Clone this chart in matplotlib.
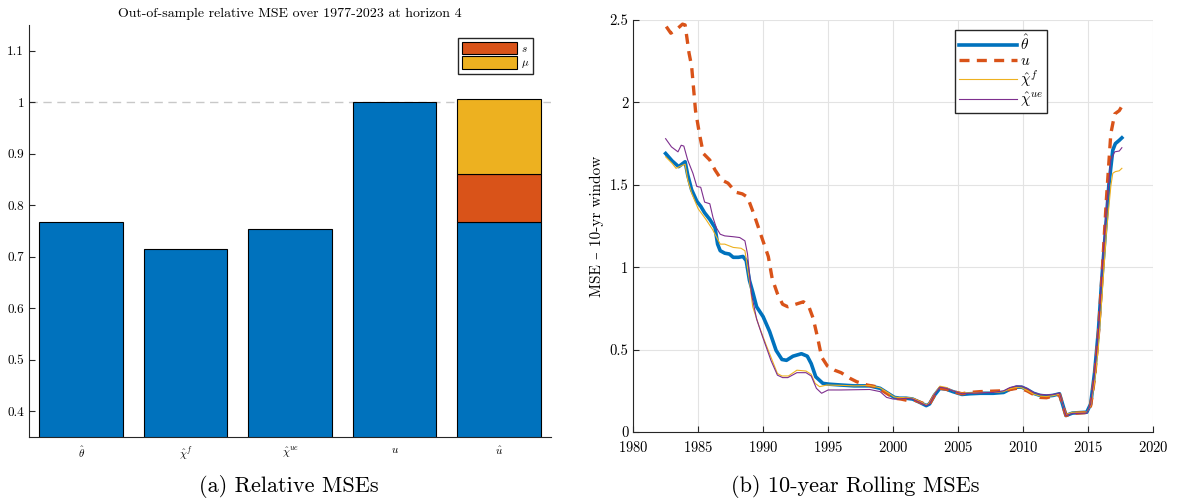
import numpy as np
import matplotlib
matplotlib.use("Agg")
import matplotlib.pyplot as plt

plt.rcParams['font.family'] = ['cmr10', 'DejaVu Serif']
plt.rcParams['mathtext.fontset'] = 'cm'
plt.rcParams['axes.formatter.use_mathtext'] = True

# MATLAB default colours
blue = '#0072BD'
orange = '#D95319'
yellow = '#EDB120'
purple = '#7E2F8E'

# --- panel (a): relative MSEs ---
bar_labels = [r'$\hat{\theta}$', r'$\hat{\chi}^{f}$', r'$\hat{\chi}^{ue}$', r'$u$', r'$\hat{u}$']
bar_values = [0.768, 0.715, 0.753, 1.0, 0.767]
# stacked pieces on top of the last bar
s_part = 0.094
mu_part = 0.145

# --- panel (b): rolling MSEs ---
theta_years = [1982.5, 1983.0, 1983.5, 1984.0, 1984.2, 1984.5, 1984.9, 1985.2, 1985.5, 1985.9,
               1986.3, 1986.5, 1986.7, 1987.05, 1987.4, 1987.7, 1988.1, 1988.45, 1988.7, 1988.95,
               1989.2, 1989.5, 1990.0, 1990.5, 1991.0, 1991.45, 1991.8, 1992.3, 1992.95, 1993.4,
               1993.7, 1994.05, 1994.6, 1995.1, 1996.0, 1997.0, 1998.2, 1999.0, 1999.6, 2000.1,
               2000.5, 2001.0, 2001.5, 2002.05, 2002.55, 2002.8, 2003.2, 2003.6, 2004.1, 2004.6,
               2005.3, 2005.9, 2006.7, 2007.7, 2008.5, 2009.0, 2009.5, 2009.9, 2010.3, 2010.8,
               2011.3, 2011.8, 2012.3, 2012.8, 2013.3, 2013.8, 2014.9, 2015.2, 2015.5, 2015.8,
               2016.05, 2016.3, 2016.6, 2016.9, 2017.1, 2017.4, 2017.6]
theta_mse = [1.69, 1.645, 1.61, 1.64, 1.56, 1.47, 1.40, 1.37, 1.33, 1.29,
             1.24, 1.14, 1.10, 1.085, 1.08, 1.06, 1.06, 1.065, 1.04, 0.92,
             0.85, 0.76, 0.70, 0.61, 0.495, 0.44, 0.435, 0.46, 0.475, 0.46,
             0.415, 0.335, 0.295, 0.29, 0.285, 0.28, 0.28, 0.265, 0.235, 0.21,
             0.205, 0.205, 0.20, 0.18, 0.16, 0.17, 0.225, 0.265, 0.26, 0.245,
             0.228, 0.232, 0.235, 0.235, 0.24, 0.26, 0.272, 0.272, 0.258, 0.235,
             0.222, 0.218, 0.222, 0.232, 0.10, 0.115, 0.12, 0.17, 0.36, 0.62,
             0.92, 1.18, 1.50, 1.71, 1.75, 1.77, 1.785]

u_years = [1982.55, 1982.9, 1983.3, 1983.8, 1984.0, 1984.3, 1984.5, 1984.8, 1985.1, 1985.4,
           1985.9, 1986.3, 1986.8, 1987.3, 1987.9, 1988.4, 1988.8, 1989.3, 1989.9, 1990.4,
           1990.7, 1991.1, 1991.5, 1991.9, 1992.5, 1993.1, 1993.5, 1993.85, 1994.2, 1994.5,
           1994.95, 1995.5, 1996.0, 1996.7, 1997.2, 1998.0, 1998.7, 1999.5, 2000.1, 2000.6,
           2001.2, 2001.6, 2002.1, 2002.6, 2002.8, 2003.2, 2003.6, 2004.1, 2004.6, 2005.3,
           2005.9, 2006.7, 2007.7, 2008.5, 2009.0, 2009.5, 2009.9, 2010.3, 2010.8, 2011.3,
           2011.8, 2012.3, 2012.8, 2013.3, 2013.8, 2014.9, 2015.2, 2015.5, 2015.8, 2016.05,
           2016.4, 2016.75, 2017.05, 2017.4, 2017.55]
u_mse = [2.46, 2.42, 2.44, 2.475, 2.47, 2.30, 2.22, 1.95, 1.81, 1.69,
         1.65, 1.59, 1.53, 1.51, 1.455, 1.445, 1.425, 1.32, 1.18, 1.065,
         0.93, 0.84, 0.775, 0.76, 0.775, 0.79, 0.765, 0.69, 0.57, 0.455,
         0.40, 0.375, 0.36, 0.325, 0.305, 0.285, 0.275, 0.235, 0.205, 0.20,
         0.19, 0.195, 0.18, 0.165, 0.17, 0.225, 0.265, 0.26, 0.245, 0.232,
         0.24, 0.245, 0.248, 0.25, 0.258, 0.265, 0.262, 0.25, 0.228, 0.21,
         0.208, 0.218, 0.228, 0.10, 0.113, 0.118, 0.16, 0.33, 0.60, 0.92,
         1.40, 1.81, 1.93, 1.95, 1.97]

chif_years = [1982.5, 1983.0, 1983.3, 1983.7, 1984.0, 1984.2, 1984.5, 1985.0, 1985.6, 1986.1,
              1986.7, 1987.05, 1987.7, 1988.3, 1988.6, 1988.95, 1989.2, 1989.7, 1990.2, 1990.6,
              1991.1, 1991.45, 1991.95, 1992.6, 1993.3, 1993.7, 1994.0, 1994.35, 1994.9, 1996.0,
              1997.0, 1998.2, 1999.0, 1999.6, 2000.1, 2000.5, 2001.0, 2001.5, 2002.05, 2002.55,
              2002.8, 2003.2, 2003.6, 2004.1, 2004.6, 2005.3, 2005.9, 2006.7, 2007.7, 2008.5,
              2009.0, 2009.5, 2009.9, 2010.3, 2010.8, 2011.3, 2011.8, 2012.3, 2012.8, 2013.3,
              2013.8, 2014.9, 2015.2, 2015.5, 2015.8, 2016.05, 2016.4, 2016.75, 2016.9, 2017.1,
              2017.4, 2017.6]
chif_mse = [1.67, 1.63, 1.60, 1.615, 1.625, 1.53, 1.45, 1.355, 1.29, 1.23,
            1.14, 1.14, 1.12, 1.115, 1.10, 0.92, 0.76, 0.64, 0.535, 0.455,
            0.355, 0.34, 0.34, 0.375, 0.37, 0.35, 0.295, 0.275, 0.285, 0.283,
            0.28, 0.282, 0.268, 0.238, 0.212, 0.208, 0.21, 0.205, 0.185, 0.165,
            0.175, 0.235, 0.278, 0.27, 0.25, 0.235, 0.238, 0.24, 0.24, 0.245,
            0.262, 0.27, 0.268, 0.252, 0.23, 0.218, 0.215, 0.22, 0.23, 0.105,
            0.12, 0.12, 0.16, 0.30, 0.52, 0.80, 1.20, 1.49, 1.57, 1.58,
            1.585, 1.60]

chiue_years = [1982.5, 1982.95, 1983.45, 1983.7, 1983.9, 1984.2, 1984.6, 1984.9, 1985.2, 1985.5,
               1985.9, 1986.15, 1986.4, 1986.7, 1987.05, 1987.7, 1988.2, 1988.6, 1988.8, 1989.1,
               1989.5, 1989.95, 1990.4, 1990.6, 1991.1, 1991.5, 1991.9, 1992.6, 1993.3, 1993.7,
               1994.1, 1994.5, 1995.0, 1996.0, 1998.2, 1999.0, 1999.5, 2000.0, 2000.5, 2001.0,
               2001.5, 2002.05, 2002.55, 2002.8, 2003.2, 2003.6, 2004.1, 2004.6, 2005.3, 2005.9,
               2006.7, 2007.7, 2008.5, 2009.0, 2009.5, 2009.9, 2010.3, 2010.8, 2011.3, 2011.8,
               2012.3, 2012.8, 2013.3, 2013.8, 2014.9, 2015.2, 2015.5, 2015.8, 2016.05, 2016.4,
               2016.75, 2017.05, 2017.4, 2017.6]
chiue_mse = [1.78, 1.73, 1.70, 1.74, 1.735, 1.65, 1.57, 1.49, 1.485, 1.395,
             1.385, 1.30, 1.24, 1.20, 1.19, 1.185, 1.18, 1.16, 1.08, 0.84,
             0.685, 0.58, 0.48, 0.435, 0.345, 0.33, 0.33, 0.36, 0.36, 0.34,
             0.265, 0.235, 0.255, 0.255, 0.258, 0.245, 0.21, 0.20, 0.20, 0.205,
             0.20, 0.18, 0.16, 0.17, 0.23, 0.272, 0.265, 0.25, 0.232, 0.235,
             0.238, 0.24, 0.25, 0.27, 0.28, 0.278, 0.265, 0.24, 0.228, 0.225,
             0.228, 0.236, 0.10, 0.112, 0.115, 0.17, 0.36, 0.62, 0.95, 1.35,
             1.65, 1.70, 1.705, 1.725]

fig = plt.figure(figsize=(11.79, 5.0), dpi=100)

# ---------- left panel ----------
ax1 = fig.add_axes([0.0246, 0.126, 0.443, 0.824])
x = np.arange(1, len(bar_values) + 1)
ax1.bar(x, bar_values, width=0.8, color=blue, edgecolor='black', linewidth=0.8, zorder=2)
base = bar_values[-1]
h_s = ax1.bar(x[-1], s_part, bottom=base, width=0.8, color=orange,
              edgecolor='black', linewidth=0.8, zorder=2, label='$s$')
h_mu = ax1.bar(x[-1], mu_part, bottom=base + s_part, width=0.8, color=yellow,
               edgecolor='black', linewidth=0.8, zorder=2, label=r'$\mu$')
ax1.axhline(1.0, color='#c8c8c8', linestyle=(0, (6, 4)), linewidth=1.0, zorder=1)
ax1.set_xlim(0.5, 5.5)
ax1.set_ylim(0.35, 1.15)
ax1.set_yticks([0.4, 0.5, 0.6, 0.7, 0.8, 0.9, 1.0, 1.1])
ax1.set_yticklabels(['0.4', '0.5', '0.6', '0.7', '0.8', '0.9', '1', '1.1'])
ax1.set_xticks(x)
ax1.set_xticklabels(bar_labels)
ax1.tick_params(axis='y', direction='in', labelsize=9.5, length=4, color='#262626')
ax1.tick_params(axis='x', direction='in', labelsize=8, length=0, pad=6)
for side in ['top', 'right']:
    ax1.spines[side].set_visible(False)
for side in ['left', 'bottom']:
    ax1.spines[side].set_color('#262626')
    ax1.spines[side].set_linewidth(0.8)
ax1.set_title('Out-of-sample relative MSE over 1977-2023 at horizon 4', fontsize=10, pad=6)
ax1.legend(handles=[h_s, h_mu], loc='upper right', bbox_to_anchor=(0.965, 0.968),
           fontsize=8, fancybox=False, edgecolor='#262626', framealpha=1,
           handlelength=5.0, handleheight=1.3, handletextpad=0.3,
           borderpad=0.35, labelspacing=0.2, borderaxespad=0.0)

# ---------- right panel ----------
ax2 = fig.add_axes([0.537, 0.136, 0.441, 0.824])
ax2.plot(theta_years, theta_mse, color=blue, linewidth=2.6, label=r'$\hat{\theta}$')
ax2.plot(u_years, u_mse, color=orange, linewidth=2.4, linestyle=(0, (3, 2.2)), label=r'$u$')
ax2.plot(chif_years, chif_mse, color=yellow, linewidth=0.8, label=r'$\hat{\chi}^{f}$')
ax2.plot(chiue_years, chiue_mse, color=purple, linewidth=0.8, label=r'$\hat{\chi}^{ue}$')
ax2.set_xlim(1980, 2020)
ax2.set_ylim(0, 2.5)
ax2.set_xticks(np.arange(1980, 2021, 5))
ax2.set_yticks([0, 0.5, 1, 1.5, 2, 2.5])
ax2.set_yticklabels(['0', '0.5', '1', '1.5', '2', '2.5'])
ax2.grid(True, color='#e3e3e3', linewidth=0.8)
ax2.set_axisbelow(True)
ax2.tick_params(direction='in', labelsize=10.5, length=4, color='#262626')
ax2.tick_params(axis='x', pad=6)
for side in ['top', 'right']:
    ax2.spines[side].set_visible(False)
for side in ['left', 'bottom']:
    ax2.spines[side].set_color('#262626')
    ax2.spines[side].set_linewidth(0.8)
ax2.set_ylabel('MSE – 10-yr window', fontsize=11)
ax2.legend(loc='upper left', bbox_to_anchor=(0.62, 0.975), fontsize=11,
           fancybox=False, edgecolor='#262626', framealpha=1,
           handlelength=3.8, handletextpad=0.2, borderpad=0.25,
           labelspacing=0.05, borderaxespad=0.0)

fig.text(0.245, 0.026, '(a) Relative MSEs', ha='center', va='center', fontsize=16)
fig.text(0.725, 0.026, '(b) 10-year Rolling MSEs', ha='center', va='center', fontsize=16)

fig.savefig('out.png', dpi=100)
